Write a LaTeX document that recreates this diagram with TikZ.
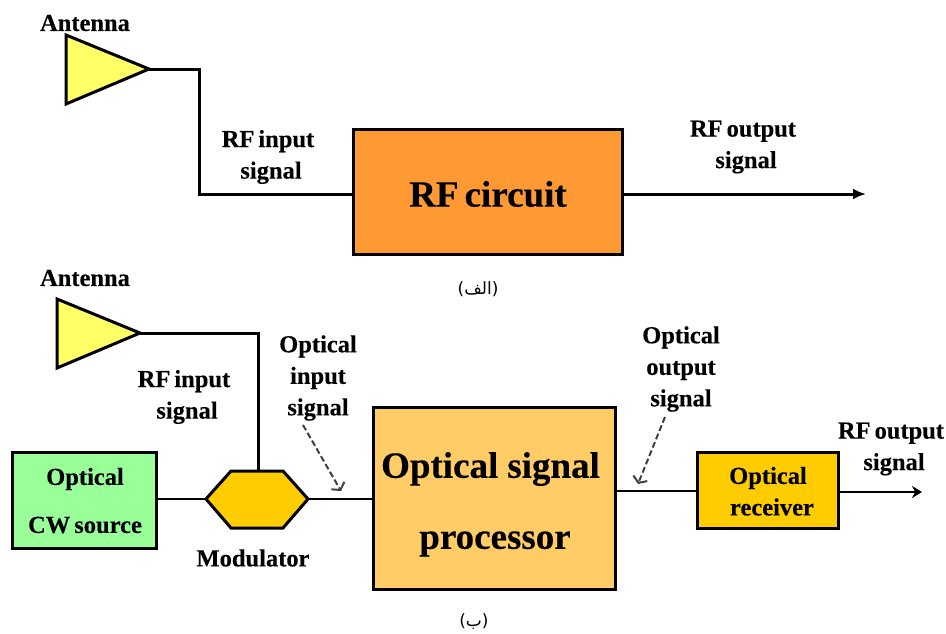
\documentclass[tikz,border=0pt]{standalone}
\usepackage{fontspec}
\setmainfont{Liberation Serif}
\newfontfamily\labfont[WordSpace=0.65,BoldFeatures={FakeBold=0.25}]{Liberation Serif}
\newfontfamily\arabicfont[Script=Arabic]{DejaVu Sans}
\TeXXeTstate=1
\usetikzlibrary{arrows.meta}
\definecolor{antyellow}{HTML}{FFFF66}
\definecolor{rforange}{HTML}{FF9933}
\definecolor{cwgreen}{HTML}{99FF99}
\definecolor{modgold}{HTML}{FFCC00}
\definecolor{procorange}{HTML}{FFCC66}
\tikzset{
  x=1pt,y=-1pt,
  shapeline/.style={draw=black,line width=3pt,line join=miter},
  wire/.style={draw=black,line width=3pt,line join=miter},
  thinwire/.style={draw=black,line width=2.5pt},
  lab/.style={font=\labfont\bfseries\fontsize{24.5}{29}\selectfont,align=center,inner sep=0pt,text=black},
  biglab/.style={font=\labfont\bfseries\fontsize{37}{40}\selectfont,inner sep=0pt,text=black},
  box/.style={shapeline,inner sep=0pt,outer sep=0pt,anchor=north west},
  pointer/.style={draw=black!75,line width=2pt,dash pattern=on 6pt off 3pt,-{Straight Barb[length=5pt,width=15pt]}},
  capt/.style={font=\fontsize{17}{19}\selectfont,inner sep=0pt}
}
\begin{document}
\begin{tikzpicture}
\useasboundingbox (0,0) rectangle (946,633);
% top
\coordinate (a1a) at (66,35);\coordinate (a1b) at (149,69);\coordinate (a1c) at (66,104);
\filldraw[shapeline,fill=antyellow] (a1a)--(a1b)--(a1c)--cycle;
\node[box,fill=rforange,minimum width=269pt,minimum height=125.5pt] (rf) at (353.5,129) {};
\node[biglab] (rft) at (488,194) {RF circuit};
\coordinate (rfout) at (866,194);
\draw[wire] (a1b) -| (199,194) -- (rf.west |- 0,194);
\draw[wire,-{Latex[length=13pt,width=11pt]}] (rf.east |- 0,194) -- (rfout);
\node[lab] (ant1) at (85,23) {Antenna};
\node[lab] (rfin1) at (268,157) {RF input\\[2.5pt]\hspace*{6pt}signal};
\node[lab] (rfout1) at (743,147) {RF output\\[2.5pt]\hspace*{6pt}signal};
\node[capt] (capa) at (478,289) {\arabicfont\beginR(الف)\endR};
% bottom
\coordinate (a2a) at (57,299);\coordinate (a2b) at (140,333);\coordinate (a2c) at (57,368);
\filldraw[shapeline,fill=antyellow] (a2a)--(a2b)--(a2c)--cycle;
\node[box,fill=cwgreen,minimum width=143.5pt,minimum height=95.5pt] (cw) at (12.5,452.5) {};
\coordinate (h1) at (206,499);\coordinate (h2) at (231,471);\coordinate (h3) at (283,471);
\coordinate (h4) at (308,499);\coordinate (h5) at (283,528);\coordinate (h6) at (231,528);
\filldraw[shapeline,fill=modgold] (h1)--(h2)--(h3)--(h4)--(h5)--(h6)--cycle;
\coordinate (modtop) at (258,471);
\node[box,fill=procorange,minimum width=242pt,minimum height=182pt] (proc) at (373.5,407.5) {};
\node[box,fill=modgold,minimum width=140.5pt,minimum height=76pt] (recv) at (697.5,452.5) {};
\coordinate (out) at (922,492);
\draw[wire] (a2b) -| (modtop);
\draw[thinwire] (cw.east |- h1) -- (h1);
\draw[thinwire] (h4) -- (proc.west |- h4);
\draw[thinwire] (proc.east |- 0,491) -- (recv.west |- 0,491);
\draw[thinwire,-{Stealth[length=10pt,width=12pt]}] (recv.east |- out) -- (out);
\node[lab] (ant2) at (85,278) {Antenna};
\node[lab] (rfin2) at (184,397) {RF input\\[2.5pt]\hspace*{6pt}signal};
\node[lab] (oin) at (318,378) {Optical\\[2.5pt]input\\[2.5pt]signal};
\node[lab] (oout) at (681,369) {Optical\\[2.5pt]output\\[2.5pt]signal};
\node[lab] (rfout2) at (891,449) {RF output\\[2.5pt]\hspace*{6pt}signal};
\node[lab] (mod) at (253,558) {Modulator};
\node[lab] (cwa) at (85,479) {Optical};
\node[lab] (cwb) at (85,525) {CW source};
\node[lab] (ra) at (768,478) {Optical};
\node[lab] (rb) at (772,507) {receiver};
\node[biglab] (p1) at (490.5,469) {Optical\hspace{3pt} signal};
\node[biglab] (p2) at (495,544) {processor};
\node[capt] (capb) at (474,621) {\arabicfont\beginR(ب)\endR};
\coordinate (pa) at (303,425);\coordinate (pb) at (341,491);
\coordinate (pc) at (665,417);\coordinate (pd) at (638,484);
\draw[pointer] (pa) -- (pb);
\draw[pointer] (pc) -- (pd);
\end{tikzpicture}
\end{document}
